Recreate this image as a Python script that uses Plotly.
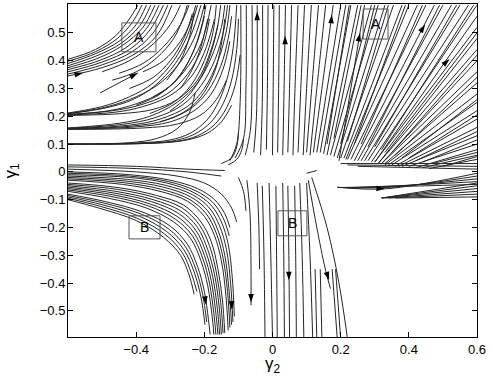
import plotly.graph_objects as pgo

# streamlines, (gamma2, gamma1) points per line
upperLeft = [
    [(-0.6, 0.405), (-0.52, 0.44), (-0.46, 0.49), (-0.42, 0.55), (-0.395, 0.60)],
    [(-0.6, 0.398), (-0.52, 0.432), (-0.455, 0.48), (-0.41, 0.54), (-0.383, 0.60)],
    [(-0.6, 0.39), (-0.52, 0.425), (-0.45, 0.47), (-0.40, 0.53), (-0.37, 0.60)],
    [(-0.6, 0.382), (-0.515, 0.418), (-0.445, 0.462), (-0.39, 0.525), (-0.357, 0.60)],
    [(-0.6, 0.375), (-0.51, 0.41), (-0.44, 0.455), (-0.38, 0.52), (-0.345, 0.60)],
    [(-0.6, 0.368), (-0.505, 0.402), (-0.43, 0.447), (-0.37, 0.515), (-0.333, 0.60)],
    [(-0.6, 0.36), (-0.50, 0.395), (-0.42, 0.44), (-0.36, 0.51), (-0.32, 0.60)],
    [(-0.6, 0.352), (-0.50, 0.385), (-0.415, 0.43), (-0.35, 0.50), (-0.307, 0.60)],
    [(-0.6, 0.345), (-0.50, 0.375), (-0.41, 0.42), (-0.34, 0.49), (-0.295, 0.60)],
    [(-0.50, 0.36), (-0.42, 0.40), (-0.35, 0.46), (-0.30, 0.53), (-0.27, 0.60)],
    [(-0.47, 0.33), (-0.40, 0.36), (-0.34, 0.41), (-0.29, 0.48), (-0.26, 0.56), (-0.25, 0.60)],
    [(-0.45, 0.355), (-0.38, 0.39), (-0.32, 0.45), (-0.27, 0.53), (-0.245, 0.60)],
    [(-0.42, 0.30), (-0.35, 0.34), (-0.30, 0.40), (-0.26, 0.48), (-0.235, 0.57)],
    [(-0.38, 0.36), (-0.32, 0.40), (-0.27, 0.47), (-0.24, 0.54), (-0.225, 0.60)],
    [(-0.506, 0.284), (-0.395, 0.356)],
    [(-0.6, 0.212), (-0.50, 0.235), (-0.42, 0.27), (-0.35, 0.32), (-0.29, 0.40), (-0.25, 0.49), (-0.22, 0.60)],
    [(-0.6, 0.21), (-0.50, 0.23), (-0.42, 0.26), (-0.34, 0.31), (-0.28, 0.38), (-0.23, 0.48), (-0.20, 0.60)],
    [(-0.6, 0.209), (-0.49, 0.23), (-0.41, 0.26), (-0.345, 0.31), (-0.285, 0.39), (-0.24, 0.49), (-0.21, 0.60)],
    [(-0.6, 0.207), (-0.48, 0.22), (-0.40, 0.245), (-0.32, 0.29), (-0.26, 0.36), (-0.21, 0.46), (-0.18, 0.60)],
    [(-0.6, 0.206), (-0.47, 0.22), (-0.39, 0.24), (-0.31, 0.28), (-0.25, 0.35), (-0.205, 0.45), (-0.185, 0.55)],
    [(-0.6, 0.205), (-0.46, 0.215), (-0.38, 0.235), (-0.30, 0.275), (-0.24, 0.34), (-0.20, 0.43), (-0.17, 0.55)],
    [(-0.6, 0.203), (-0.44, 0.21), (-0.35, 0.225), (-0.28, 0.26), (-0.22, 0.33), (-0.18, 0.44), (-0.16, 0.53)],
    [(-0.6, 0.158), (-0.45, 0.175), (-0.36, 0.20), (-0.28, 0.25), (-0.22, 0.32), (-0.18, 0.41), (-0.15, 0.52), (-0.14, 0.60)],
    [(-0.6, 0.157), (-0.44, 0.171), (-0.345, 0.195), (-0.265, 0.24), (-0.21, 0.31), (-0.17, 0.40), (-0.143, 0.51), (-0.132, 0.60)],
    [(-0.6, 0.156), (-0.42, 0.168), (-0.33, 0.19), (-0.25, 0.235), (-0.20, 0.30), (-0.16, 0.40), (-0.135, 0.51), (-0.125, 0.60)],
    [(-0.6, 0.155), (-0.41, 0.165), (-0.315, 0.185), (-0.24, 0.228), (-0.19, 0.29), (-0.152, 0.38), (-0.13, 0.48), (-0.12, 0.56)],
    [(-0.6, 0.154), (-0.40, 0.162), (-0.30, 0.18), (-0.23, 0.22), (-0.18, 0.28), (-0.145, 0.37), (-0.125, 0.47)],
    [(-0.6, 0.153), (-0.38, 0.158), (-0.28, 0.172), (-0.21, 0.205), (-0.165, 0.26), (-0.135, 0.33)],
    [(-0.6, 0.101), (-0.42, 0.105), (-0.34, 0.12), (-0.28, 0.155), (-0.245, 0.21), (-0.227, 0.284)],
    [(-0.6, 0.10), (-0.40, 0.104), (-0.30, 0.115), (-0.24, 0.14), (-0.19, 0.19), (-0.155, 0.26), (-0.13, 0.35), (-0.115, 0.45), (-0.105, 0.60)],
    [(-0.6, 0.10), (-0.39, 0.103), (-0.29, 0.112), (-0.23, 0.135), (-0.18, 0.18), (-0.145, 0.245), (-0.12, 0.33), (-0.105, 0.44), (-0.10, 0.55)],
    [(-0.6, 0.099), (-0.38, 0.102), (-0.28, 0.11), (-0.22, 0.13), (-0.17, 0.17), (-0.135, 0.23), (-0.11, 0.31), (-0.095, 0.42)],
    [(-0.5, 0.10), (-0.34, 0.104), (-0.25, 0.115), (-0.19, 0.14), (-0.15, 0.18), (-0.12, 0.24)],
    [(-0.40, 0.24), (-0.33, 0.28), (-0.27, 0.35), (-0.23, 0.44), (-0.205, 0.54), (-0.195, 0.60)],
    [(-0.36, 0.21), (-0.29, 0.25), (-0.24, 0.31), (-0.20, 0.40), (-0.175, 0.50), (-0.165, 0.60)],
    [(-0.35, 0.27), (-0.29, 0.32), (-0.25, 0.39), (-0.22, 0.47), (-0.20, 0.56)],
    [(-0.33, 0.18), (-0.26, 0.215), (-0.21, 0.27), (-0.17, 0.36), (-0.15, 0.46), (-0.14, 0.55)],
    [(-0.30, 0.22), (-0.25, 0.27), (-0.21, 0.34), (-0.18, 0.43), (-0.16, 0.53), (-0.152, 0.60)],
    [(-0.27, 0.30), (-0.235, 0.37), (-0.21, 0.45), (-0.19, 0.55)],
    [(-0.31, 0.33), (-0.27, 0.40), (-0.245, 0.48), (-0.23, 0.57)],
    [(-0.15, 0.03), (-0.12, 0.05), (-0.105, 0.09), (-0.10, 0.14)],
    [(-0.13, 0.025), (-0.105, 0.045), (-0.09, 0.08), (-0.085, 0.12)],
]

upperMiddle = [
    [(-0.125, 0.04), (-0.105, 0.10), (-0.095, 0.25), (-0.093, 0.60)],
    [(-0.11, 0.05), (-0.085, 0.12), (-0.078, 0.30), (-0.077, 0.60)],
    [(-0.08, 0.06), (-0.065, 0.15), (-0.06, 0.35), (-0.06, 0.60)],
    [(-0.055, 0.07), (-0.047, 0.20), (-0.045, 0.60)],
    [(-0.035, 0.06), (-0.03, 0.25), (-0.029, 0.60)],
    [(-0.018, 0.08), (-0.015, 0.30), (-0.013, 0.60)],
    [(0.0, 0.06), (0.002, 0.30), (0.004, 0.60)],
    [(0.015, 0.07), (0.018, 0.30), (0.02, 0.60)],
    [(0.03, 0.06), (0.034, 0.30), (0.038, 0.60)],
    [(0.045, 0.07), (0.05, 0.30), (0.056, 0.60)],
    [(0.06, 0.06), (0.066, 0.30), (0.075, 0.60)],
    [(0.075, 0.07), (0.083, 0.30), (0.094, 0.60)],
    [(0.09, 0.06), (0.10, 0.30), (0.114, 0.60)],
    [(0.10, 0.07), (0.115, 0.30), (0.135, 0.60)],
    [(0.11, 0.06), (0.13, 0.30), (0.156, 0.60)],
    [(0.12, 0.07), (0.145, 0.30), (0.178, 0.60)],
    [(0.10, -0.005), (0.13, 0.005)],
]

upperRight = [
    [(0.13, 0.07), (0.20, 0.60)],
    [(0.14, 0.07), (0.215, 0.60)],
    [(0.16, 0.10), (0.225, 0.60)],
    [(0.15, 0.065), (0.23, 0.60)],
    [(0.16, 0.06), (0.25, 0.60)],
    [(0.18, 0.12), (0.26, 0.60)],
    [(0.195, 0.04), (0.27, 0.60)],
    [(0.17, 0.06), (0.29, 0.60)],
    [(0.20, 0.10), (0.30, 0.60)],
    [(0.18, 0.055), (0.31, 0.60)],
    [(0.19, 0.05), (0.33, 0.60)],
    [(0.22, 0.11), (0.34, 0.60)],
    [(0.20, 0.05), (0.355, 0.60)],
    [(0.21, 0.05), (0.38, 0.60)],
    [(0.24, 0.10), (0.39, 0.60)],
    [(0.215, 0.045), (0.40, 0.60)],
    [(0.22, 0.045), (0.425, 0.60)],
    [(0.26, 0.10), (0.44, 0.60)],
    [(0.23, 0.045), (0.45, 0.60)],
    [(0.24, 0.04), (0.475, 0.60)],
    [(0.28, 0.09), (0.49, 0.60)],
    [(0.25, 0.04), (0.50, 0.60)],
    [(0.26, 0.04), (0.525, 0.60)],
    [(0.30, 0.09), (0.54, 0.60)],
    [(0.27, 0.04), (0.55, 0.60)],
    [(0.28, 0.04), (0.575, 0.60)],
    [(0.32, 0.08), (0.59, 0.60)],
    [(0.29, 0.035), (0.60, 0.60)],
    [(0.30, 0.035), (0.60, 0.56)],
    [(0.30, 0.035), (0.60, 0.52)],
    [(0.33, 0.07), (0.60, 0.50)],
    [(0.31, 0.03), (0.60, 0.48)],
    [(0.31, 0.03), (0.60, 0.44)],
    [(0.35, 0.07), (0.60, 0.42)],
    [(0.32, 0.03), (0.60, 0.40)],
    [(0.32, 0.03), (0.60, 0.36)],
    [(0.36, 0.06), (0.60, 0.34)],
    [(0.33, 0.03), (0.60, 0.32)],
    [(0.33, 0.025), (0.60, 0.28)],
    [(0.38, 0.05), (0.60, 0.26)],
    [(0.34, 0.025), (0.60, 0.25)],
    [(0.35, 0.025), (0.60, 0.22)],
    [(0.40, 0.05), (0.60, 0.205)],
    [(0.36, 0.02), (0.60, 0.19)],
    [(0.37, 0.02), (0.60, 0.16)],
    [(0.42, 0.04), (0.60, 0.145)],
    [(0.38, 0.02), (0.60, 0.13)],
    [(0.44, 0.035), (0.60, 0.115)],
    [(0.40, 0.02), (0.60, 0.10)],
    [(0.42, 0.015), (0.60, 0.08)],
    [(0.47, 0.03), (0.60, 0.07)],
    [(0.44, 0.015), (0.60, 0.06)],
    [(0.50, 0.02), (0.60, 0.055)],
    [(0.46, 0.012), (0.60, 0.045)],
    [(0.20, 0.03), (0.60, 0.03)],
    [(0.22, 0.025), (0.60, 0.02)],
    [(0.25, 0.02), (0.60, 0.01)],
]

lowerRight = [
    [(0.19, -0.055), (0.33, -0.061), (0.60, -0.005)],
    [(0.19, -0.056), (0.35, -0.055), (0.60, -0.015)],
    [(0.20, -0.056), (0.38, -0.05), (0.60, -0.025)],
    [(0.22, -0.057), (0.40, -0.048), (0.60, -0.035)],
    [(0.25, -0.057), (0.45, -0.05), (0.60, -0.045)],
    [(0.32, -0.094), (0.60, -0.04)],
    [(0.32, -0.094), (0.60, -0.05)],
    [(0.32, -0.094), (0.60, -0.06)],
    [(0.33, -0.094), (0.60, -0.07)],
    [(0.34, -0.094), (0.60, -0.08)],
    [(0.36, -0.094), (0.60, -0.09)],
]

lowerLeft = [
    [(-0.6, 0.025), (-0.40, 0.02), (-0.25, 0.01), (-0.14, 0.005)],
    [(-0.6, 0.018), (-0.40, 0.012), (-0.25, 0.0), (-0.15, -0.015)],
    [(-0.6, 0.01), (-0.40, 0.0), (-0.28, -0.015), (-0.20, -0.04), (-0.15, -0.08), (-0.12, -0.13), (-0.105, -0.18)],
    [(-0.6, 0.0), (-0.42, -0.01), (-0.30, -0.03), (-0.22, -0.06), (-0.17, -0.10), (-0.14, -0.15), (-0.125, -0.20)],
    [(-0.6, -0.005), (-0.42, -0.015), (-0.305, -0.035), (-0.225, -0.068), (-0.175, -0.11), (-0.145, -0.165), (-0.127, -0.23)],
    [(-0.6, -0.01), (-0.42, -0.02), (-0.31, -0.04), (-0.23, -0.075), (-0.18, -0.12), (-0.15, -0.18), (-0.13, -0.26), (-0.118, -0.38), (-0.112, -0.52)],
    [(-0.6, -0.015), (-0.425, -0.027), (-0.315, -0.048), (-0.235, -0.082), (-0.185, -0.13), (-0.155, -0.195), (-0.135, -0.28), (-0.123, -0.40), (-0.116, -0.54)],
    [(-0.6, -0.02), (-0.43, -0.033), (-0.32, -0.055), (-0.24, -0.09), (-0.19, -0.14), (-0.16, -0.21), (-0.14, -0.30), (-0.128, -0.42), (-0.12, -0.55)],
    [(-0.6, -0.025), (-0.435, -0.039), (-0.325, -0.063), (-0.245, -0.098), (-0.195, -0.15), (-0.165, -0.22), (-0.145, -0.31), (-0.132, -0.43), (-0.125, -0.56)],
    [(-0.6, -0.03), (-0.44, -0.045), (-0.33, -0.07), (-0.25, -0.105), (-0.20, -0.16), (-0.17, -0.23), (-0.15, -0.32), (-0.137, -0.44), (-0.13, -0.57)],
    [(-0.6, -0.04), (-0.45, -0.057), (-0.34, -0.085), (-0.26, -0.12), (-0.21, -0.18), (-0.18, -0.25), (-0.16, -0.35), (-0.147, -0.46), (-0.14, -0.58)],
    [(-0.6, -0.045), (-0.455, -0.063), (-0.345, -0.092), (-0.265, -0.13), (-0.215, -0.19), (-0.185, -0.265), (-0.165, -0.36), (-0.152, -0.47), (-0.145, -0.58)],
    [(-0.6, -0.05), (-0.46, -0.07), (-0.35, -0.10), (-0.27, -0.14), (-0.22, -0.20), (-0.19, -0.28), (-0.17, -0.37), (-0.157, -0.48), (-0.15, -0.585)],
    [(-0.6, -0.055), (-0.465, -0.076), (-0.355, -0.107), (-0.275, -0.15), (-0.225, -0.21), (-0.195, -0.29), (-0.175, -0.38), (-0.162, -0.49), (-0.155, -0.585)],
    [(-0.6, -0.06), (-0.47, -0.082), (-0.36, -0.115), (-0.28, -0.16), (-0.23, -0.22), (-0.20, -0.30), (-0.18, -0.39), (-0.167, -0.50), (-0.16, -0.585)],
    [(-0.6, -0.065), (-0.475, -0.088), (-0.365, -0.122), (-0.285, -0.17), (-0.235, -0.23), (-0.205, -0.31), (-0.185, -0.40), (-0.172, -0.51), (-0.166, -0.585)],
    [(-0.6, -0.07), (-0.48, -0.095), (-0.37, -0.13), (-0.29, -0.18), (-0.24, -0.24), (-0.21, -0.32), (-0.19, -0.41), (-0.177, -0.52), (-0.172, -0.585)],
    [(-0.6, -0.08), (-0.49, -0.107), (-0.38, -0.145), (-0.30, -0.195), (-0.25, -0.26), (-0.22, -0.34), (-0.20, -0.43), (-0.188, -0.53), (-0.183, -0.585)],
    [(-0.6, -0.085), (-0.495, -0.112), (-0.385, -0.152), (-0.305, -0.205), (-0.255, -0.27), (-0.225, -0.35), (-0.205, -0.44), (-0.193, -0.54)],
    [(-0.6, -0.09), (-0.50, -0.118), (-0.39, -0.16), (-0.31, -0.215), (-0.26, -0.28), (-0.23, -0.36), (-0.21, -0.45), (-0.198, -0.55)],
    [(-0.6, -0.095), (-0.505, -0.124), (-0.395, -0.168), (-0.315, -0.225), (-0.265, -0.29), (-0.238, -0.365), (-0.222, -0.43)],
    [(-0.6, -0.10), (-0.51, -0.13), (-0.40, -0.175), (-0.32, -0.235), (-0.27, -0.30), (-0.245, -0.37), (-0.23, -0.44)],
]

lowerMiddle = [
    [(-0.10, -0.02), (-0.085, -0.07), (-0.078, -0.14)],
    [(-0.075, -0.03), (-0.066, -0.15), (-0.063, -0.35), (-0.063, -0.48)],
    [(-0.045, -0.04), (-0.04, -0.20), (-0.038, -0.35)],
    [(-0.03, -0.05), (-0.025, -0.30), (-0.022, -0.60)],
    [(-0.01, -0.04), (-0.005, -0.30), (0.0, -0.60)],
    [(0.01, -0.05), (0.012, -0.30), (0.014, -0.60)],
    [(0.03, -0.04), (0.033, -0.30), (0.035, -0.60)],
    [(0.045, -0.05), (0.048, -0.30), (0.05, -0.60)],
    [(0.065, -0.05), (0.068, -0.30), (0.07, -0.60)],
    [(0.08, -0.04), (0.087, -0.30), (0.092, -0.60)],
    [(0.10, -0.04), (0.11, -0.30), (0.118, -0.60)],
    [(0.105, -0.03), (0.13, -0.20), (0.155, -0.35), (0.17, -0.42)],
    [(0.115, -0.02), (0.16, -0.20), (0.195, -0.40), (0.22, -0.60)],
    [(0.125, -0.35), (0.13, -0.60)],
    [(0.14, -0.35), (0.145, -0.60)],
    [(0.175, -0.35), (0.19, -0.60)],
    [(0.185, -0.35), (0.20, -0.60)],
]

# arrowheads: position and heading (degrees clockwise from up)
arrowX = [-0.8, -0.556, -0.395, -0.045, 0.037, 0.174, 0.257, 0.448, 0.52, 0.33, -0.195, -0.119, -0.063, 0.048, 0.166]
arrowY = [0.42, 0.356, 0.356, 0.576, 0.49, 0.565, 0.50, 0.53, 0.406, -0.061, -0.478, -0.496, -0.47, -0.39, -0.39]
arrowAngle = [90, 78, 62, 0, 0, 5, 12, 33, 48, 92, 172, 177, 180, 180, 162]

# labelled boxes
boxText = ["A", "A", "B", "B"]
boxX0 = [-0.442, 0.266, -0.421, 0.016]
boxX1 = [-0.342, 0.339, -0.330, 0.101]
boxY0 = [0.432, 0.478, -0.241, -0.230]
boxY1 = [0.536, 0.586, -0.158, -0.140]


def flatten(curves):
    xs, ys = [], []
    for c in curves:
        for x, y in c:
            xs.append(x)
            ys.append(y)
        xs.append(None)
        ys.append(None)
    return xs, ys


fig = pgo.Figure()

for fam in [upperLeft, upperMiddle, upperRight, lowerRight, lowerLeft, lowerMiddle]:
    fx, fy = flatten(fam)
    fig.add_trace(pgo.Scatter(x=fx, y=fy, mode="lines",
                              line=dict(color="#262626", width=1, shape="spline", smoothing=1.0),
                              hoverinfo="skip", showlegend=False))

fig.add_trace(pgo.Scatter(x=arrowX, y=arrowY, mode="markers", cliponaxis=False,
                          marker=dict(symbol="arrow", size=9, angle=arrowAngle, color="black", line=dict(width=0)),
                          hoverinfo="skip", showlegend=False))

for i in range(len(boxText)):
    fig.add_shape(type="rect", x0=boxX0[i], x1=boxX1[i], y0=boxY0[i], y1=boxY1[i],
                  line=dict(color="#555555", width=1))
    fig.add_annotation(x=(boxX0[i] + boxX1[i]) / 2, y=(boxY0[i] + boxY1[i]) / 2, text=boxText[i],
                       showarrow=False, font=dict(size=14, color="black"))

# axis titles placed by hand so they sit where the reference has them
fig.add_annotation(x=0.5, y=0, xref="paper", yref="paper", yanchor="middle", yshift=-28,
                   text="γ<sub>2</sub>", showarrow=False, font=dict(size=17, color="black"))
fig.add_annotation(x=0, y=0.5, xref="paper", yref="paper", xanchor="center", xshift=-57,
                   text="γ<sub>1</sub>", textangle=-90, showarrow=False, font=dict(size=17, color="black"))

axisStyle = dict(showline=True, linecolor="black", linewidth=1, mirror="ticks", ticks="inside",
                 ticklen=5, tickcolor="black", showgrid=False, zeroline=False,
                 tickfont=dict(size=13, color="black"))

fig.update_xaxes(range=[-0.6, 0.6], tickvals=[-0.4, -0.2, 0, 0.2, 0.4, 0.6], **axisStyle)
fig.update_yaxes(range=[-0.594, 0.604], tickvals=[-0.5, -0.4, -0.3, -0.2, -0.1, 0, 0.1, 0.2, 0.3, 0.4, 0.5],
                 ticklabelstandoff=-1, **axisStyle)

fig.update_layout(width=491, height=382, margin=dict(l=68, r=14, t=4, b=45),
                  plot_bgcolor="white", paper_bgcolor="white",
                  font=dict(family="Liberation Sans, Arial, sans-serif", color="black"))

fig.write_html("out.html", config={"displayModeBar": False},
               post_script="document.body.style.margin='0px';")
